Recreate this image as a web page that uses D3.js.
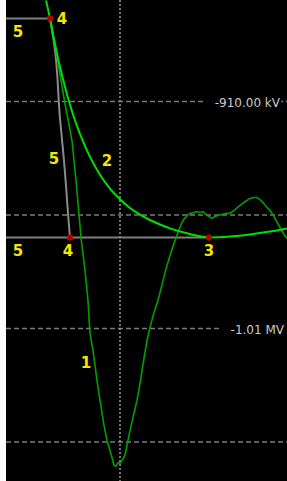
<!DOCTYPE html>
<html>
<head>
<meta charset="utf-8">
<script src="https://cdn.jsdelivr.net/npm/d3@7"></script>
<style>
  html, body { margin: 0; padding: 0; background: #fff; }
  svg { display: block; }
</style>
</head>
<body>
<div id="chart"></div>
<script>
// time in µs relative to the vertical cursor, voltage in kV
const trace1Time = [-7.0, -6.4, -5.9, -5.5, -4.8, -4.4, -3.9, -3.5, -3.2, -3.0, -2.7, -2.3, -2.0, -1.6, -1.3, -1.0,
    -0.8, -0.6, -0.4, -0.2, 0.0, 0.2, 0.5, 0.9, 1.3, 1.7, 2.0, 2.4, 2.7, 3.0, 3.4, 3.8, 4.3, 4.7, 5.1, 5.5, 5.9,
    6.3, 6.7, 7.0, 7.4, 7.7, 8.0, 8.3, 8.6, 8.9, 9.2, 9.5, 9.8, 10.2, 10.6, 11.0, 11.5, 12.0, 12.5, 13.0, 13.4,
    13.7, 14.0, 14.3, 14.7, 15.0, 15.3, 15.6, 16.0, 16.4, 16.7];
const trace1Volts = [-873.4, -887.5, -900.7, -910.9, -927.2, -944.8, -969.9, -984.4, -997.7, -1012.2, -1019.7,
    -1032.9, -1041.7, -1052.7, -1059.3, -1063.7, -1066.8, -1070.3, -1070.7, -1069.0, -1069.4, -1068.1, -1065.9,
    -1057.1, -1049.2, -1041.7, -1034.2, -1023.2, -1015.3, -1009.6, -1002.9, -997.7, -988.9, -982.2, -976.5,
    -971.2, -966.4, -962.4, -960.2, -959.3, -958.9, -958.5, -958.9, -958.5, -959.8, -960.7, -961.5, -960.7,
    -960.2, -959.8, -959.3, -959.3, -957.6, -955.8, -954.1, -952.7, -952.3, -952.3, -953.2, -954.5, -956.7,
    -958.0, -959.8, -962.4, -965.5, -968.6, -970.4];

const trace2Time = [-7.4, -7.0, -6.5, -6.0, -5.5, -5.0, -4.4, -3.7, -3.0, -2.0, -1.0, 0.0, 1.0, 2.0, 3.0, 4.0,
    5.0, 7.0, 8.9, 11.0, 13.0, 15.0, 16.7];
const trace2Volts = [-865.5, -873.4, -884.8, -894.8, -903.6, -911.4, -919.6, -927.6, -934.4, -942.3, -948.4,
    -953.1, -956.9, -959.8, -962.2, -964.2, -965.9, -968.4, -969.9, -969.5, -968.6, -967.3, -965.9];

const cursorTime = [-7.0, -6.5, -6.0, -5.6, -5.4, -5.2, -5.0];
const cursorVolts = [-873.4, -887.5, -917.5, -936.0, -947.0, -959.3, -969.9];

const markerTime = [-7.0, -5.0, 8.9];
const markerVolts = [-873.4, -969.9, -969.9];

const levelTop = -873.4;
const levelBottom = -969.9;

const gridVolts = [-910, -960, -1010, -1060];
const gridLabels = ["-910.00 kV", "", "-1.01 MV", ""];
const gridTime = [0];

const labelText = ["5", "4", "5", "2", "5", "4", "3", "1"];
const labelTime = [-10.2, -5.8, -6.6, -1.3, -10.2, -5.2, 8.9, -3.4];
const labelVolts = [-879, -873.4, -935, -936, -975.5, -975.5, -975.5, -1025];

const W = 287, H = 481;
const panelLeft = 6;

const svg = d3.select("#chart").append("svg")
    .attr("width", W)
    .attr("height", H);

svg.append("rect")
    .attr("x", panelLeft).attr("y", 0)
    .attr("width", W - panelLeft).attr("height", H)
    .attr("fill", "#000");

const x = d3.scaleLinear().domain([-11.4, 16.7]).range([panelLeft, W]);
const y = d3.scaleLinear().domain([-910, -1010]).range([101.5, 328.5]);

// grid
svg.selectAll(".hgrid")
    .data(gridVolts)
    .enter().append("line")
    .attr("class", "hgrid")
    .attr("x1", panelLeft).attr("x2", W)
    .attr("y1", d => y(d)).attr("y2", d => y(d))
    .attr("stroke", "#7a7a7a")
    .attr("stroke-width", 1.5)
    .attr("stroke-dasharray", "5,3");

svg.selectAll(".vgrid")
    .data(gridTime)
    .enter().append("line")
    .attr("class", "vgrid")
    .attr("x1", d => x(d)).attr("x2", d => x(d))
    .attr("y1", 0).attr("y2", H)
    .attr("stroke", "#9a9a9a")
    .attr("stroke-width", 1.5)
    .attr("stroke-dasharray", "2,2");

// grid labels with black backing
const gl = svg.selectAll(".glabel")
    .data(gridVolts.map((v, i) => [v, gridLabels[i]]).filter(d => d[1] !== ""))
    .enter().append("g")
    .attr("class", "glabel");

gl.append("rect")
    .attr("x", (d, i) => i === 0 ? 204 : 219)
    .attr("y", d => y(d[0]) - 8)
    .attr("width", (d, i) => i === 0 ? 77 : 68)
    .attr("height", 16)
    .attr("fill", "#000");

gl.append("text")
    .attr("x", (d, i) => i === 0 ? 280 : 284)
    .attr("y", d => y(d[0]) + 1)
    .attr("dy", "0.36em")
    .attr("text-anchor", "end")
    .attr("font-family", "DejaVu Sans, sans-serif")
    .attr("font-size", "12px")
    .attr("fill", "#cccccc")
    .text(d => d[1]);

// cursor lines
const cursorPts = cursorTime.map((t, i) => [t, cursorVolts[i]]);
const line = d3.line().x(d => x(d[0])).y(d => y(d[1]));

svg.append("line")
    .attr("x1", panelLeft).attr("x2", x(markerTime[0]))
    .attr("y1", y(levelTop)).attr("y2", y(levelTop))
    .attr("stroke", "#808080").attr("stroke-width", 2);

svg.append("line")
    .attr("x1", panelLeft).attr("x2", x(markerTime[2]))
    .attr("y1", y(levelBottom)).attr("y2", y(levelBottom))
    .attr("stroke", "#808080").attr("stroke-width", 2);

svg.append("path")
    .datum(cursorPts)
    .attr("d", line.curve(d3.curveMonotoneY))
    .attr("fill", "none")
    .attr("stroke", "#8a8a8a")
    .attr("stroke-width", 2);

// traces
svg.append("path")
    .datum(trace1Time.map((t, i) => [t, trace1Volts[i]]))
    .attr("d", line.curve(d3.curveLinear))
    .attr("fill", "none")
    .attr("stroke", "#00a000")
    .attr("stroke-width", 1.6);

svg.append("path")
    .datum(trace2Time.map((t, i) => [t, trace2Volts[i]]))
    .attr("d", line.curve(d3.curveMonotoneX))
    .attr("fill", "none")
    .attr("stroke", "#00e000")
    .attr("stroke-width", 2);

// markers
svg.selectAll(".marker")
    .data(markerTime.map((t, i) => [t, markerVolts[i]]))
    .enter().append("circle")
    .attr("class", "marker")
    .attr("cx", d => x(d[0]))
    .attr("cy", d => y(d[1]))
    .attr("r", 2.8)
    .attr("fill", "#b00000")
    .attr("stroke", "#e00000")
    .attr("stroke-width", 0.8);

// yellow labels
svg.selectAll(".num")
    .data(labelText.map((s, i) => [labelTime[i], labelVolts[i], s]))
    .enter().append("text")
    .attr("class", "num")
    .attr("x", d => x(d[0]))
    .attr("y", d => y(d[1]))
    .attr("dy", "0.36em")
    .attr("text-anchor", "middle")
    .attr("font-family", "DejaVu Sans, sans-serif")
    .attr("font-weight", "bold")
    .attr("font-size", "15px")
    .attr("fill", "#f5e600")
    .text(d => d[2]);
</script>
</body>
</html>
